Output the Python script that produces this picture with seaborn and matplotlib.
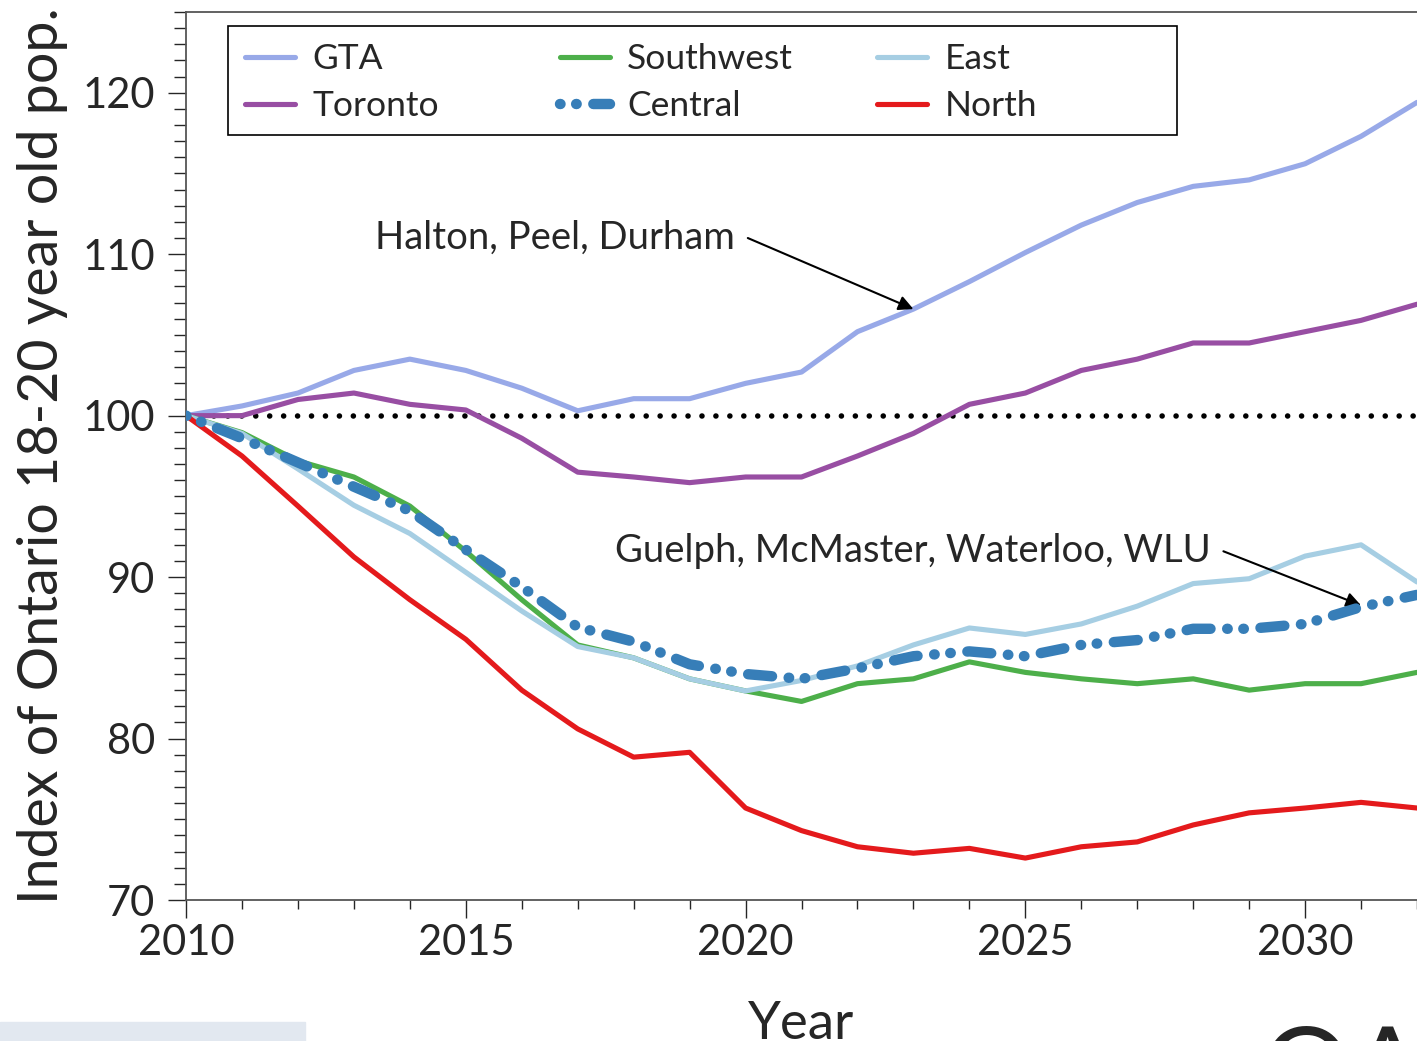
# Index of Ontario 18-20 year old population by region (2010 = 100)

import numpy as np
import pandas as pd
import matplotlib
matplotlib.use("Agg")
import matplotlib.pyplot as plt
from matplotlib.ticker import MultipleLocator
from matplotlib.patches import Rectangle
import seaborn as sns

# Data
years = list(range(2010, 2033))
gta = [100, 100.6, 101.4, 102.8, 103.5, 102.8, 101.7, 100.3, 101.05, 101.05, 102.0, 102.7,
       105.2, 106.6, 108.3, 110.1, 111.8, 113.2, 114.2, 114.6, 115.6, 117.3, 119.4]
toronto = [100, 100, 101.0, 101.4, 100.7, 100.35, 98.6, 96.5, 96.2, 95.85, 96.2, 96.2,
           97.5, 98.9, 100.7, 101.4, 102.8, 103.5, 104.5, 104.5, 105.2, 105.9, 106.9]
southwest = [100, 98.95, 97.2, 96.2, 94.4, 91.6, 88.6, 85.8, 85.0, 83.7, 82.95, 82.3,
             83.4, 83.7, 84.75, 84.1, 83.7, 83.4, 83.7, 83.0, 83.4, 83.4, 84.1]
central = [100, 98.6, 97.1, 95.6, 94.1, 91.7, 89.4, 86.9, 86.0, 84.6, 84.0, 83.7,
           84.35, 85.1, 85.4, 85.1, 85.8, 86.1, 86.8, 86.8, 87.1, 88.15, 88.9]
east = [100, 98.9, 96.7, 94.45, 92.7, 90.3, 87.9, 85.7, 85.0, 83.7, 82.95, 83.6,
        84.5, 85.8, 86.85, 86.45, 87.1, 88.2, 89.6, 89.9, 91.3, 92.0, 89.7]
north = [100, 97.5, 94.4, 91.25, 88.6, 86.15, 83.0, 80.6, 78.85, 79.15, 75.7, 74.3,
         73.3, 72.9, 73.2, 72.6, 73.3, 73.6, 74.65, 75.4, 75.7, 76.05, 75.7]

series = {"GTA": gta, "Toronto": toronto, "Southwest": southwest,
          "Central": central, "East": east, "North": north}
colors = {"GTA": "#98a9e8", "Toronto": "#984ea3", "Southwest": "#4daf4a",
          "Central": "#377eb8", "East": "#a6cee3", "North": "#e41a1c"}

df = pd.DataFrame(series, index=years)

sns.set_style("ticks")
plt.rcParams["font.family"] = ["Lato", "DejaVu Sans"]

fig = plt.figure(figsize=(14.17, 10.41), dpi=100)
ax = fig.add_axes([0.1313, 0.1354, 0.8687, 0.8531])

# baseline at 100
ax.axhline(100, color="black", lw=4.0, ls=(0, (0.01, 2.5)), dash_capstyle="round", zorder=1)

for name in ["GTA", "Toronto", "Southwest", "East", "North", "Central"]:
    if name == "Central":
        sns.lineplot(x=df.index, y=df[name], ax=ax, color=colors[name], lw=7.5,
                     label=name, zorder=5)
        ln = ax.lines[-1]
        ln.set_dashes([0.05, 1.5, 0.05, 1.6, 2.3, 1.6])
        ln.set_dash_capstyle("round")
    else:
        sns.lineplot(x=df.index, y=df[name], ax=ax, color=colors[name], lw=3.7,
                     label=name, zorder=3)

ax.set_xlim(2010, 2032)
ax.set_ylim(70, 125)
ax.xaxis.set_major_locator(MultipleLocator(5))
ax.xaxis.set_minor_locator(MultipleLocator(1))
ax.yaxis.set_minor_locator(MultipleLocator(1))
ax.set_yticks([70, 80, 90, 100, 110, 120])
ax.tick_params(axis="x", which="major", length=13, width=1, labelsize=30, pad=4)
ax.tick_params(axis="x", which="minor", length=6.5, width=1)
ax.tick_params(axis="y", which="major", length=13, width=1, labelsize=30, pad=9)
ax.tick_params(axis="y", which="minor", length=9, width=1)
for s in ["left", "bottom", "top"]:
    ax.spines[s].set_color("#555555")
    ax.spines[s].set_linewidth(1.3)
ax.spines["right"].set_visible(False)

ax.set_xlabel("Year", fontsize=38, labelpad=28)
ax.set_ylabel("Index of Ontario 18-20 year old pop.", fontsize=40, labelpad=11)

# legend: three columns, one legend each, inside a single box
handles, labels = ax.get_legend_handles_labels()
hmap = dict(zip(labels, handles))
columns = [["GTA", "Toronto"], ["Southwest", "Central"], ["East", "North"]]
col_x = [0.0479, 0.3038, 0.5613]
legs = []
for names, x0 in zip(columns, col_x):
    lg = ax.legend([hmap[k] for k in names], names, loc="upper left",
                   bbox_to_anchor=(x0, 0.965), fontsize=25.5, frameon=False,
                   borderaxespad=0, borderpad=0, handlelength=1.4,
                   labelspacing=0.42, handletextpad=0.5)
    legs.append(lg)
for lg in legs[:-1]:
    ax.add_artist(lg)
ax.add_patch(Rectangle((0.0341, 0.8615), 0.771, 0.1227, transform=ax.transAxes,
                       fill=False, edgecolor="black", lw=1.2, zorder=6))

ax.text(2019.8, 111.0, "Halton, Peel, Durham", fontsize=27.5, ha="right", va="center")
ax.annotate("", xy=(2023, 106.6), xytext=(2020.04, 111.0),
            arrowprops=dict(arrowstyle="-|>", color="black", lw=1.5,
                            mutation_scale=22, shrinkA=0, shrinkB=0))
ax.text(2028.32, 91.6, "Guelph, McMaster, Waterloo, WLU", fontsize=27.5,
        ha="right", va="center")
ax.annotate("", xy=(2031, 88.25), xytext=(2028.54, 91.6),
            arrowprops=dict(arrowstyle="-|>", color="black", lw=1.5,
                            mutation_scale=22, shrinkA=0, shrinkB=0))

# page furniture at the bottom edge
fig.patches.append(Rectangle((0, 0), 305 / 1417, 19 / 1041, transform=fig.transFigure,
                             color="#e2e8f0", zorder=0))
fig.text(1262 / 1417, -0.062, "OA", fontsize=80, ha="left", va="baseline")

fig.savefig("out.png", dpi=100)
